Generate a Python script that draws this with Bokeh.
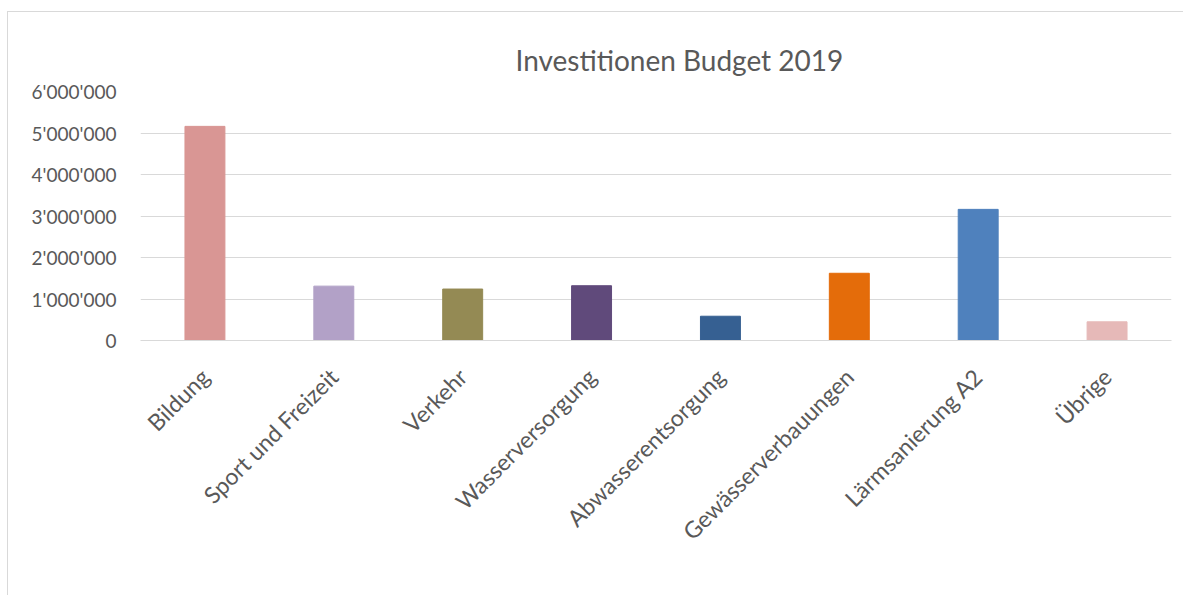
from bokeh.plotting import figure
from bokeh.models import ColumnDataSource, FactorRange, Range1d, FixedTicker
from bokeh.embed import file_html
from bokeh.resources import INLINE
import math

categories = ["Bildung", "Sport und Freizeit", "Verkehr", "Wasserversorgung",
              "Abwasserentsorgung", "Gewässerverbauungen", "Lärmsanierung A2", "Übrige"]
values = [5160000, 1310000, 1240000, 1320000, 585000, 1620000, 3160000, 450000]
colors = ["#d99694", "#b2a1c7", "#948a54", "#604a7b", "#366092", "#e46c0a", "#4f81bd", "#e6b9b8"]
y_ticks = [0, 1000000, 2000000, 3000000, 4000000, 5000000, 6000000]
y_tick_labels = ["0", "1'000'000", "2'000'000", "3'000'000", "4'000'000", "5'000'000", "6'000'000"]
title_text = "Investitionen  Budget 2019"

FONT = "Lato"
GREY = "#595959"

source = ColumnDataSource(data=dict(cat=categories, val=values, col=colors))

p = figure(
    width=1176, height=584,
    x_range=FactorRange(*categories),
    y_range=Range1d(0, 6000000),
    output_backend="svg", toolbar_location=None,
    min_border_left=132, min_border_right=13, min_border_top=79, min_border_bottom=256,
    styles={"position": "relative", "left": "8px", "top": "12px",
            "box-shadow": "-1px -1px 0 #d9d9d9"},
)

p.vbar(x="cat", top="val", width=0.31, color="col", source=source)

p.title.text = title_text
p.title.align = "left"
p.title.offset = 375
p.title.text_font = FONT
p.title.text_font_size = "28px"
p.title.text_font_style = "normal"
p.title.text_color = GREY
p.title.standoff = 29

p.outline_line_color = None
p.background_fill_color = "white"
p.border_fill_color = "white"

p.xgrid.grid_line_color = None
p.ygrid.grid_line_color = "#d9d9d9"
p.ygrid.grid_line_width = 1

p.yaxis.ticker = FixedTicker(ticks=y_ticks)
p.yaxis.major_label_overrides = {t: l for t, l in zip(y_ticks, y_tick_labels)}
p.yaxis.axis_line_color = None
p.yaxis.major_tick_line_color = None
p.yaxis.minor_tick_line_color = None
p.yaxis.major_label_standoff = 18
p.yaxis.major_label_text_font = FONT
p.yaxis.major_label_text_font_size = "19px"
p.yaxis.major_label_text_color = GREY

p.xaxis.axis_line_color = "#d9d9d9"
p.xaxis.major_tick_line_color = None
p.xaxis.minor_tick_line_color = None
p.xaxis.major_label_orientation = math.pi / 4
p.xaxis.major_label_standoff = 26
p.xaxis.major_label_text_font = FONT
p.xaxis.major_label_text_font_size = "23px"
p.xaxis.major_label_text_color = GREY

open("out.html", "w").write(file_html(p, INLINE))
